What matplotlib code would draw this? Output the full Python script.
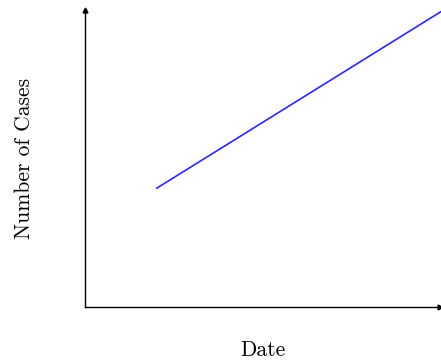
import matplotlib
matplotlib.use("Agg")
import matplotlib.pyplot as plt

# data (arbitrary units, no ticks shown)
dates = [1, 5]
cases = [4, 10]

plt.rcParams['font.family'] = ['cmr10', 'DejaVu Serif']
plt.rcParams['axes.formatter.use_mathtext'] = True

fig = plt.figure(figsize=(4.41, 3.63), dpi=100)
ax = fig.add_axes([85 / 441, 56 / 363, 355 / 441, 297 / 363])

ax.plot(dates, cases, color='#2828ff', lw=1.2, clip_on=False)

ax.set_xlim(0, 4.95)
ax.set_ylim(0, 10)

# only the left and bottom spines, with arrow heads
for side in ['top', 'right']:
    ax.spines[side].set_visible(False)
for side in ['left', 'bottom']:
    ax.spines[side].set_linewidth(1.0)
ax.plot(1, 0, '>k', ms=3.5, transform=ax.get_yaxis_transform(), clip_on=False)
ax.plot(0, 1, '^k', ms=3.5, transform=ax.get_xaxis_transform(), clip_on=False)

ax.set_xticks([])
ax.set_yticks([])

ax.set_xlabel('Date', fontsize=15.5, labelpad=24)
ax.set_ylabel('Number of Cases', fontsize=15.5, labelpad=37)

fig.savefig('out.png', dpi=100)
